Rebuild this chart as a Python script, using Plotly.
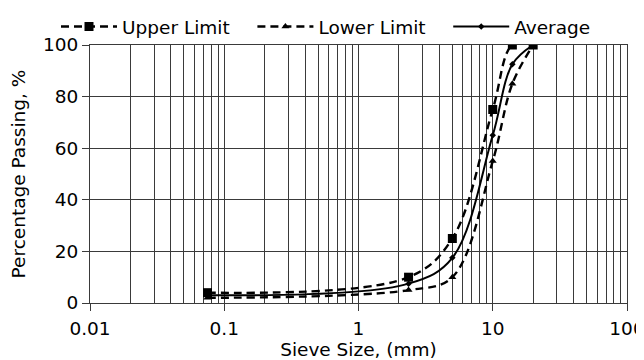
import plotly.graph_objects as go

sieve = [0.075, 2.36, 5, 10, 14, 20]
upper = [4, 10, 25, 75, 100, 100]
lower = [2, 5, 10, 55, 85, 100]
average = [3, 7.5, 17.5, 65, 92.5, 100]

x_major = [0.01, 0.1, 1, 10, 100]
x_labels = ["0.01", "0.1", "1", "10", "100"]
x_minor = [m * 10 ** e for e in range(-2, 2) for m in range(2, 10)]
y_ticks = [0, 20, 40, 60, 80, 100]

FONT = "'DejaVu Sans', sans-serif"
GRID = "#3a3a3a"
FS = 18.5
PAD = "\u00a0" * 3

fig = go.Figure()
fig.add_trace(go.Scatter(x=sieve, y=upper, name="Upper Limit" + PAD, mode="lines+markers",
                         line=dict(color="black", width=2.4, dash="8px,5px", shape="spline", smoothing=1.0),
                         marker=dict(symbol="square", size=9, color="black")))
fig.add_trace(go.Scatter(x=sieve, y=lower, name="Lower Limit" + PAD, mode="lines+markers",
                         line=dict(color="black", width=2.4, dash="8px,5px", shape="spline", smoothing=1.0),
                         marker=dict(symbol="triangle-up", size=7, color="black")))
fig.add_trace(go.Scatter(x=sieve, y=average, name="Average", mode="lines+markers",
                         line=dict(color="black", width=2, shape="spline", smoothing=1.0),
                         marker=dict(symbol="diamond", size=5, color="black")))

fig.update_layout(
    width=636, height=352,
    margin=dict(l=82, r=17, t=37, b=57, autoexpand=False),
    paper_bgcolor="white", plot_bgcolor="white",
    font=dict(family=FONT, size=FS, color="black"),
    showlegend=True,
    legend=dict(orientation="h", x=0.5, xanchor="center", y=1.0, yanchor="top",
                yref="container", xref="container", itemwidth=56,
                font=dict(size=FS), traceorder="normal", bgcolor="rgba(0,0,0,0)"),
    xaxis=dict(type="log", range=[-2, 2], tickvals=x_major, ticktext=x_labels,
               showgrid=True, gridcolor=GRID, gridwidth=1,
               ticks="outside", ticklen=7, tickcolor=GRID,
               ticklabelstandoff=2, ticklabeloverflow="allow",
               showline=True, linecolor=GRID, mirror=True,
               minor=dict(tickvals=x_minor, showgrid=True, gridcolor=GRID, gridwidth=1, ticks=""),
               tickfont=dict(size=FS),
               title=dict(text="Sieve Size, (mm)", standoff=3, font=dict(size=FS)),
               zeroline=False),
    yaxis=dict(range=[0, 100], tickvals=y_ticks,
               showgrid=True, gridcolor=GRID, gridwidth=1,
               ticks="outside", ticklen=7, tickcolor=GRID,
               showline=True, linecolor=GRID, mirror=True,
               tickfont=dict(size=FS),
               title=dict(text="Percentage Passing, %", standoff=18, font=dict(size=FS)),
               zeroline=False),
)
fig.write_html("out.html")
